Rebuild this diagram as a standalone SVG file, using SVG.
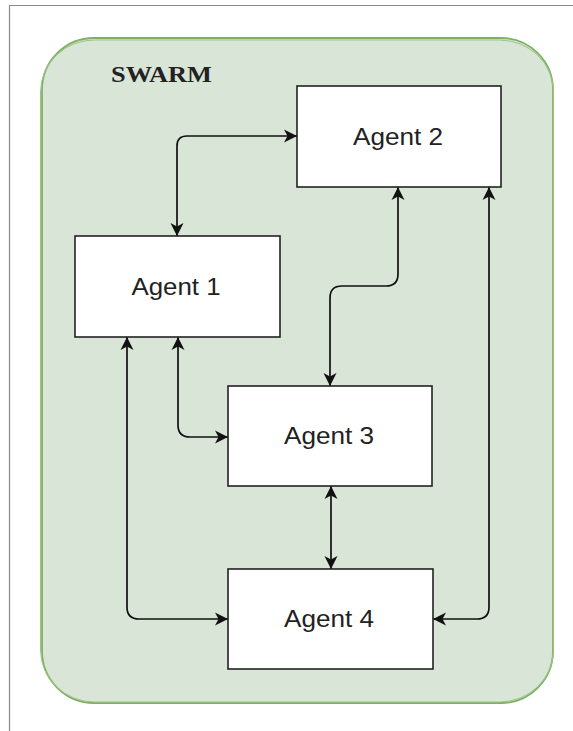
<svg xmlns="http://www.w3.org/2000/svg" width="573" height="731" viewBox="0 0 573 731">
<style>
.node rect{fill:#ffffff;stroke:#222222;stroke-width:1.6}
.node text{font-family:"Liberation Sans",Arial,sans-serif;font-size:24px;fill:#222222;text-anchor:middle}
.conn path{fill:none;stroke:#111111;stroke-width:1.7;marker-start:url(#arr);marker-end:url(#arr)}
</style>
<defs>
<marker id="arr" markerUnits="userSpaceOnUse" markerWidth="15" markerHeight="14" refX="13" refY="7" orient="auto-start-reverse" viewBox="0 0 15 14">
<path d="M0,0.5 L13,7 L0,13.5 L3.5,7 Z" fill="#111111"/>
</marker>
</defs>
<rect width="573" height="731" fill="#ffffff"/>
<path d="M9.5,731 L9.5,5.5 L573,5.5" fill="none" stroke="#8a8a8a" stroke-width="1.2"/>
<g id="swarm">
<rect x="42" y="38" width="511" height="665" rx="52" ry="52" fill="#d9e5d6" stroke="#7fb065" stroke-width="1.8"/>
<rect x="40.5" y="40" width="513" height="662" rx="54" ry="52" fill="none" stroke="#9cc588" stroke-width="1"/>
<text x="111" y="82" font-family="Liberation Serif,'Times New Roman',serif" font-weight="bold" font-size="24" fill="#222222" textLength="101" lengthAdjust="spacingAndGlyphs">SWARM</text>
</g>
<g class="conn" id="connectors">
<path d="M177,236 L177,146 Q177,136 187,136 L297,136"/>
<path d="M398,187 L398,274 Q398,286 386,286 L342,286 Q330,286 330,298 L330,386"/>
<path d="M489,187 L489,607 Q489,619 477,619 L433,619"/>
<path d="M178,337 L178,425 Q178,437 190,437 L228,437"/>
<path d="M127,337 L127,607 Q127,619 139,619 L228,619"/>
<path d="M331,486 L331,569"/>
</g>
<g class="node" id="agent1">
<rect x="75" y="236" width="205" height="101"/>
<text x="176" y="295" textLength="89" lengthAdjust="spacingAndGlyphs">Agent 1</text>
</g>
<g class="node" id="agent2">
<rect x="297" y="86" width="204" height="101"/>
<text x="398" y="145" textLength="90" lengthAdjust="spacingAndGlyphs">Agent 2</text>
</g>
<g class="node" id="agent3">
<rect x="228" y="386" width="204" height="100"/>
<text x="329" y="444" textLength="90" lengthAdjust="spacingAndGlyphs">Agent 3</text>
</g>
<g class="node" id="agent4">
<rect x="228" y="569" width="205" height="100"/>
<text x="329" y="627" textLength="90" lengthAdjust="spacingAndGlyphs">Agent 4</text>
</g>
</svg>
